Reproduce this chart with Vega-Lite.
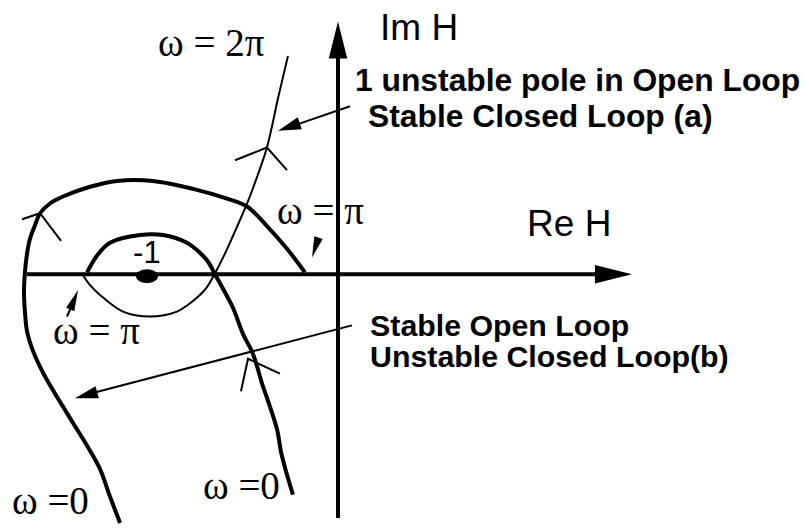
{
  "$schema": "https://vega.github.io/schema/vega-lite/v6.json",
  "width": 805,
  "height": 532,
  "padding": 0,
  "autosize": {"type": "fit", "contains": "padding"},
  "background": "white",
  "config": {"view": {"stroke": null}},
  "datasets": {
    "paths": [
      {"path": "reAxis", "i": 0, "re": -1.628, "im": 0},
      {"path": "reAxis", "i": 1, "re": 1.424, "im": 0},
      {"path": "imAxis", "i": 0, "re": 0, "im": -1.298},
      {"path": "imAxis", "i": 1, "re": 0, "im": 1.225},

      {"path": "outer", "i": 0, "re": -1.141, "im": -1.325},
      {"path": "outer", "i": 1, "re": -1.194, "im": -1.183},
      {"path": "outer", "i": 2, "re": -1.246, "im": -1.037},
      {"path": "outer", "i": 3, "re": -1.309, "im": -0.921},
      {"path": "outer", "i": 4, "re": -1.366, "im": -0.827},
      {"path": "outer", "i": 5, "re": -1.429, "im": -0.723},
      {"path": "outer", "i": 6, "re": -1.492, "im": -0.618},
      {"path": "outer", "i": 7, "re": -1.55, "im": -0.513},
      {"path": "outer", "i": 8, "re": -1.597, "im": -0.408},
      {"path": "outer", "i": 9, "re": -1.628, "im": -0.304},
      {"path": "outer", "i": 10, "re": -1.639, "im": -0.199},
      {"path": "outer", "i": 11, "re": -1.644, "im": -0.094},
      {"path": "outer", "i": 12, "re": -1.639, "im": 0.01},
      {"path": "outer", "i": 13, "re": -1.628, "im": 0.11},
      {"path": "outer", "i": 14, "re": -1.613, "im": 0.188},
      {"path": "outer", "i": 15, "re": -1.586, "im": 0.262},
      {"path": "outer", "i": 16, "re": -1.56, "im": 0.325},
      {"path": "outer", "i": 17, "re": -1.508, "im": 0.377},
      {"path": "outer", "i": 18, "re": -1.44, "im": 0.414},
      {"path": "outer", "i": 19, "re": -1.298, "im": 0.466},
      {"path": "outer", "i": 20, "re": -1.157, "im": 0.497},
      {"path": "outer", "i": 21, "re": -0.969, "im": 0.497},
      {"path": "outer", "i": 22, "re": -0.759, "im": 0.455},
      {"path": "outer", "i": 23, "re": -0.581, "im": 0.403},
      {"path": "outer", "i": 24, "re": -0.476, "im": 0.361},
      {"path": "outer", "i": 25, "re": -0.372, "im": 0.257},
      {"path": "outer", "i": 26, "re": -0.267, "im": 0.136},
      {"path": "outer", "i": 27, "re": -0.173, "im": 0.01},

      {"path": "inner", "i": 0, "re": -0.236, "im": -1.173},
      {"path": "inner", "i": 1, "re": -0.267, "im": -1.068},
      {"path": "inner", "i": 2, "re": -0.298, "im": -0.948},
      {"path": "inner", "i": 3, "re": -0.319, "im": -0.827},
      {"path": "inner", "i": 4, "re": -0.366, "im": -0.675},
      {"path": "inner", "i": 5, "re": -0.398, "im": -0.581},
      {"path": "inner", "i": 6, "re": -0.445, "im": -0.424},
      {"path": "inner", "i": 7, "re": -0.497, "im": -0.319},
      {"path": "inner", "i": 8, "re": -0.55, "im": -0.178},
      {"path": "inner", "i": 9, "re": -0.607, "im": -0.068},
      {"path": "inner", "i": 10, "re": -0.644, "im": 0},
      {"path": "inner", "i": 11, "re": -0.681, "im": 0.068},
      {"path": "inner", "i": 12, "re": -0.723, "im": 0.115},
      {"path": "inner", "i": 13, "re": -0.791, "im": 0.168},
      {"path": "inner", "i": 14, "re": -0.916, "im": 0.209},
      {"path": "inner", "i": 15, "re": -1.037, "im": 0.209},
      {"path": "inner", "i": 16, "re": -1.194, "im": 0.168},
      {"path": "inner", "i": 17, "re": -1.262, "im": 0.099},
      {"path": "inner", "i": 18, "re": -1.314, "im": 0.01},

      {"path": "curveA", "i": 0, "re": -0.262, "im": 1.162},
      {"path": "curveA", "i": 1, "re": -0.314, "im": 0.937},
      {"path": "curveA", "i": 2, "re": -0.372, "im": 0.675},
      {"path": "curveA", "i": 3, "re": -0.424, "im": 0.518},
      {"path": "curveA", "i": 4, "re": -0.476, "im": 0.377},
      {"path": "curveA", "i": 5, "re": -0.55, "im": 0.204},
      {"path": "curveA", "i": 6, "re": -0.597, "im": 0.099},
      {"path": "curveA", "i": 7, "re": -0.644, "im": 0.005},
      {"path": "curveA", "i": 8, "re": -0.686, "im": -0.068},
      {"path": "curveA", "i": 9, "re": -0.723, "im": -0.11},
      {"path": "curveA", "i": 10, "re": -0.785, "im": -0.162},
      {"path": "curveA", "i": 11, "re": -0.843, "im": -0.199},
      {"path": "curveA", "i": 12, "re": -0.984, "im": -0.225},
      {"path": "curveA", "i": 13, "re": -1.126, "im": -0.199},
      {"path": "curveA", "i": 14, "re": -1.246, "im": -0.11},
      {"path": "curveA", "i": 15, "re": -1.298, "im": -0.058},
      {"path": "curveA", "i": 16, "re": -1.335, "im": -0.005},

      {"path": "chevOuter", "i": 0, "re": -1.654, "im": 0.293},
      {"path": "chevOuter", "i": 1, "re": -1.56, "im": 0.325},
      {"path": "chevOuter", "i": 2, "re": -1.45, "im": 0.178},
      {"path": "chevA", "i": 0, "re": -0.539, "im": 0.607},
      {"path": "chevA", "i": 1, "re": -0.372, "im": 0.675},
      {"path": "chevA", "i": 2, "re": -0.267, "im": 0.555},
      {"path": "chevInner", "i": 0, "re": -0.508, "im": -0.623},
      {"path": "chevInner", "i": 1, "re": -0.471, "im": -0.45},
      {"path": "chevInner", "i": 2, "re": -0.304, "im": -0.529},

      {"path": "shaftA", "i": 0, "re": 0.063, "im": 0.895},
      {"path": "shaftA", "i": 1, "re": -0.251, "im": 0.785},
      {"path": "shaftB", "i": 0, "re": 0.073, "im": -0.272},
      {"path": "shaftB", "i": 1, "re": -1.309, "im": -0.639},
      {"path": "shaftPi", "i": 0, "re": -1.419, "im": -0.225},
      {"path": "shaftPi", "i": 1, "re": -1.387, "im": -0.152}
    ],
    "heads": [
      {"head": "imAxis", "re": 0, "im": 1.346, "heading": 0},
      {"head": "reAxis", "re": 1.539, "im": 0, "heading": 90},
      {"head": "pointerA", "re": -0.314, "im": 0.764, "heading": 251},
      {"head": "pointerB", "re": -1.377, "im": -0.66, "heading": 255},
      {"head": "piUpper", "re": -0.136, "im": 0.089, "heading": 198},
      {"head": "piLower", "re": -1.361, "im": -0.084, "heading": 22}
    ],
    "points": [
      {"label": "-1", "re": -1.0, "im": -0.01}
    ],
    "labels": [
      {"face": "sans", "text": "Im H", "re": 0.22, "im": 1.246},
      {"face": "sans", "text": "Re H", "re": 0.99, "im": 0.204},
      {"face": "small", "text": "-1", "re": -1.073, "im": 0.058},
      {"face": "boldTop", "text": "1 unstable pole in Open Loop", "re": 0.089, "im": 0.974},
      {"face": "boldTop", "text": "Stable Closed Loop (a)", "re": 0.157, "im": 0.785},
      {"face": "boldLow", "text": "Stable Open Loop\nUnstable Closed Loop(b)", "re": 0.168, "im": -0.33},
      {"face": "serif", "text": "ω = 2π", "re": -0.942, "im": 1.162},
      {"face": "serif", "text": "ω = π", "re": -0.319, "im": 0.267},
      {"face": "serif", "text": "ω = π", "re": -1.492, "im": -0.372},
      {"face": "serif", "text": "ω =0", "re": -1.707, "im": -1.277},
      {"face": "serif", "text": "ω =0", "re": -0.707, "im": -1.199}
    ]
  },
  "encoding": {
    "x": {"field": "re", "type": "quantitative", "axis": null,
          "scale": {"domain": [-1.7696, 2.445], "nice": false, "zero": false}},
    "y": {"field": "im", "type": "quantitative", "axis": null,
          "scale": {"domain": [-1.3246, 1.4607], "nice": false, "zero": false}}
  },
  "layer": [
    {
      "data": {"name": "paths"},
      "transform": [{"filter": {"field": "path", "oneOf": ["reAxis", "imAxis"]}}],
      "mark": {"type": "line", "color": "black", "strokeWidth": 4, "strokeCap": "butt"},
      "encoding": {"detail": {"field": "path"}, "order": {"field": "i", "type": "quantitative"}}
    },
    {
      "data": {"name": "paths"},
      "transform": [{"filter": {"field": "path", "oneOf": ["outer", "inner"]}}],
      "mark": {"type": "line", "color": "black", "strokeWidth": 4, "interpolate": "catmull-rom", "strokeCap": "butt"},
      "encoding": {"detail": {"field": "path"}, "order": {"field": "i", "type": "quantitative"}}
    },
    {
      "data": {"name": "paths"},
      "transform": [{"filter": {"field": "path", "equal": "curveA"}}],
      "mark": {"type": "line", "color": "black", "strokeWidth": 2, "interpolate": "catmull-rom"},
      "encoding": {"detail": {"field": "path"}, "order": {"field": "i", "type": "quantitative"}}
    },
    {
      "data": {"name": "paths"},
      "transform": [{"filter": {"field": "path", "oneOf": ["chevOuter", "chevA", "chevInner", "shaftA", "shaftB", "shaftPi"]}}],
      "mark": {"type": "line", "color": "black", "strokeWidth": 2, "strokeJoin": "miter"},
      "encoding": {"detail": {"field": "path"}, "order": {"field": "i", "type": "quantitative"}}
    },
    {
      "data": {"name": "heads"},
      "transform": [{"filter": {"field": "head", "oneOf": ["imAxis", "reAxis"]}}],
      "mark": {"type": "point", "shape": "M0,0 L-0.5,2 L0.5,2 Z", "filled": true, "color": "black", "opacity": 1, "strokeWidth": 0, "size": 1369},
      "encoding": {"angle": {"field": "heading", "type": "quantitative", "scale": null}}
    },
    {
      "data": {"name": "heads"},
      "transform": [{"filter": {"field": "head", "oneOf": ["pointerA", "pointerB"]}}],
      "mark": {"type": "point", "shape": "M0,0 L-0.55,2 L0.55,2 Z", "filled": true, "color": "black", "opacity": 1, "strokeWidth": 0, "size": 529},
      "encoding": {"angle": {"field": "heading", "type": "quantitative", "scale": null}}
    },
    {
      "data": {"name": "heads"},
      "transform": [{"filter": {"field": "head", "oneOf": ["piUpper", "piLower"]}}],
      "mark": {"type": "point", "shape": "M0,0 L-0.42,2 L0.42,2 Z", "filled": true, "color": "black", "opacity": 1, "strokeWidth": 0, "size": 441},
      "encoding": {"angle": {"field": "heading", "type": "quantitative", "scale": null}}
    },
    {
      "data": {"name": "points"},
      "mark": {"type": "point", "shape": "M-1,0 A1,0.62 0 1,0 1,0 A1,0.62 0 1,0 -1,0 Z", "filled": true, "color": "black", "opacity": 1, "strokeWidth": 0, "size": 484}
    },
    {
      "data": {"name": "labels"},
      "transform": [{"filter": {"field": "face", "equal": "sans"}}],
      "mark": {"type": "text", "font": "Liberation Sans", "fontSize": 37, "align": "left", "baseline": "alphabetic", "color": "black"},
      "encoding": {"text": {"field": "text"}}
    },
    {
      "data": {"name": "labels"},
      "transform": [{"filter": {"field": "face", "equal": "small"}}],
      "mark": {"type": "text", "font": "Liberation Sans", "fontSize": 31, "align": "left", "baseline": "alphabetic", "color": "black"},
      "encoding": {"text": {"field": "text"}}
    },
    {
      "data": {"name": "labels"},
      "transform": [{"filter": {"field": "face", "equal": "boldTop"}}],
      "mark": {"type": "text", "font": "Liberation Sans", "fontWeight": "bold", "fontSize": 31.8, "align": "left", "baseline": "alphabetic", "color": "black"},
      "encoding": {"text": {"field": "text"}}
    },
    {
      "data": {"name": "labels"},
      "transform": [{"filter": {"field": "face", "equal": "boldLow"}}],
      "mark": {"type": "text", "font": "Liberation Sans", "fontWeight": "bold", "fontSize": 30.3, "lineHeight": 31, "lineBreak": "\n", "align": "left", "baseline": "alphabetic", "color": "black"},
      "encoding": {"text": {"field": "text"}}
    },
    {
      "data": {"name": "labels"},
      "transform": [{"filter": {"field": "face", "equal": "serif"}}],
      "mark": {"type": "text", "font": "Liberation Serif", "fontSize": 39, "align": "left", "baseline": "alphabetic", "color": "black"},
      "encoding": {"text": {"field": "text"}}
    }
  ]
}
